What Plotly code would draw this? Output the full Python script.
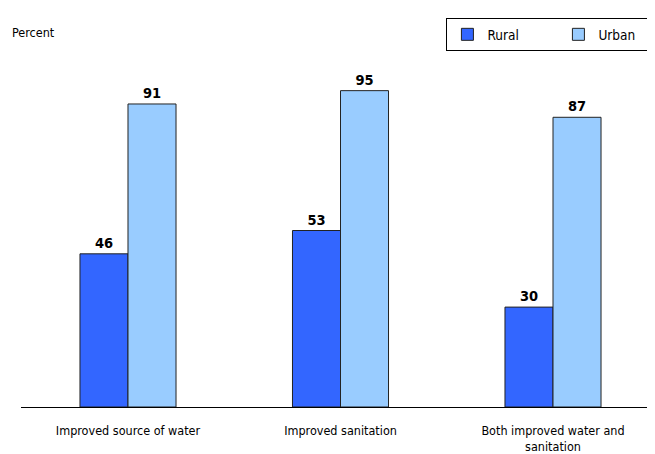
import plotly.graph_objects as go

categories = ["Improved source of water", "Improved sanitation", "Both improved water and<br>sanitation"]
rural = [46, 53, 30]
urban = [91, 95, 87]
positions = [0, 1, 2]

FONT = "DejaVu Sans Condensed, DejaVu Sans, sans-serif"

fig = go.Figure()
fig.add_trace(go.Bar(
    x=positions, y=rural, name="Rural",
    marker=dict(color="#3366FF", line=dict(color="#222222", width=1)),
    text=[str(v) for v in rural], textposition="outside",
    textfont=dict(family=FONT, size=14.5, color="black", weight="bold"),
    cliponaxis=False,
))
fig.add_trace(go.Bar(
    x=positions, y=urban, name="Urban",
    marker=dict(color="#99CCFF", line=dict(color="#222222", width=1)),
    text=[str(v) for v in urban], textposition="outside",
    textfont=dict(family=FONT, size=14.5, color="black", weight="bold"),
    cliponaxis=False,
))

# the page places the figure 8px in from the top-left corner
fig.update_layout(
    width=647, height=446,
    margin=dict(l=13, r=0, t=66, b=47, autoexpand=False),
    paper_bgcolor="white", plot_bgcolor="white",
    barmode="group", bargap=0.548, bargroupgap=0,
    font=dict(family=FONT, size=12.5, color="black"),
    showlegend=True,
    legend=dict(
        orientation="h", x=0.671, y=1.168, xanchor="left", yanchor="top",
        bordercolor="black", borderwidth=1, bgcolor="white",
        entrywidth=66, font=dict(family=FONT, size=13.5),
        traceorder="normal",
    ),
    xaxis=dict(
        tickmode="array", tickvals=positions, ticktext=categories,
        range=[-0.5035, 2.48], showline=True, linecolor="black", linewidth=1,
        ticks="outside", ticklen=12, tickcolor="rgba(0,0,0,0)",
        showgrid=False, zeroline=False, fixedrange=True,
        tickfont=dict(family=FONT, size=12.5),
    ),
    yaxis=dict(
        range=[0, 100], showticklabels=False, showgrid=False,
        zeroline=False, showline=False, ticks="",
    ),
    annotations=[dict(
        text="Percent", xref="paper", yref="paper",
        x=-0.018, y=1.125, xanchor="left", yanchor="middle",
        showarrow=False, font=dict(family=FONT, size=12.5),
    )],
)

fig.write_html("out.html")
